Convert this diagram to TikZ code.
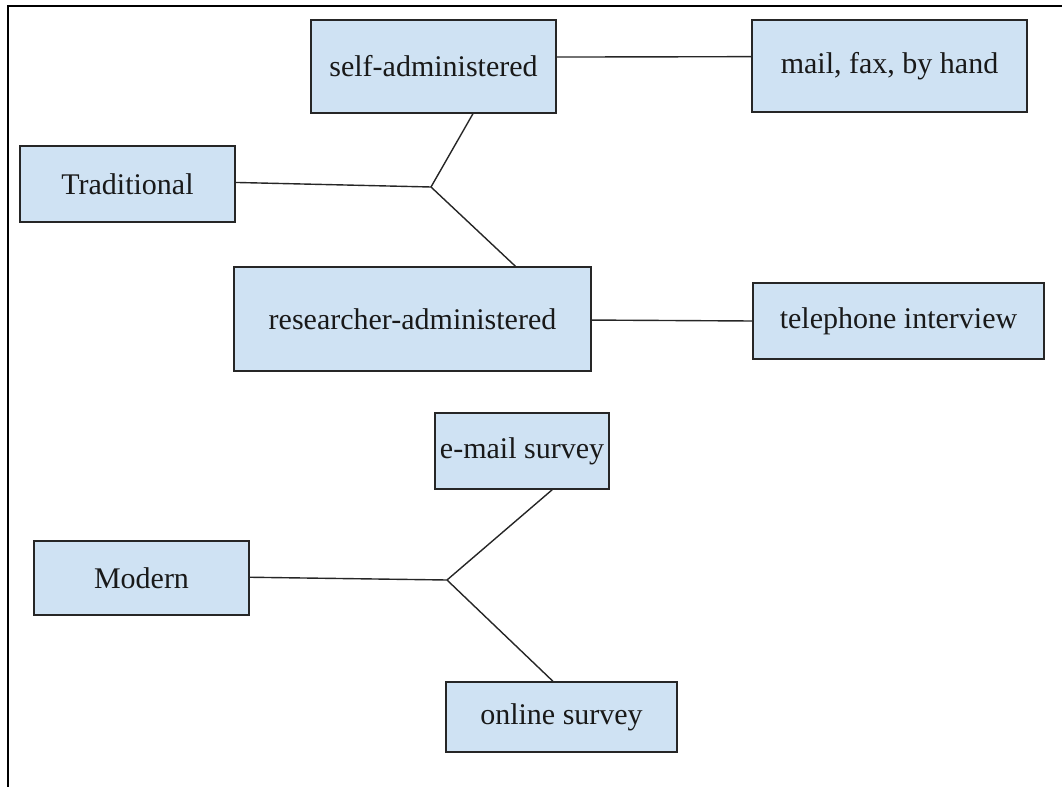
\documentclass[tikz,border=0pt]{standalone}
\usepackage{fontspec}
\setmainfont{Liberation Serif}
\usetikzlibrary{calc}
\definecolor{boxfill}{RGB}{207,226,243}
\begin{document}
\begin{tikzpicture}[x=0.5pt,y=-0.5pt,
  box/.style={draw=black!85, line width=0.75pt, fill=boxfill, inner sep=0pt,
    font=\fontsize{15}{18}\selectfont, text=black!90},
  conn/.style={draw=black!85, line width=0.7pt},
  frame/.style={draw=black, line width=1pt}]
\useasboundingbox (0,0) rectangle (1062,787);
\draw[frame] (8,787) -- (8,6) -- (1062,6);
% nodes
\node[box, minimum width=122.5pt, minimum height=46.5pt] (selfadm) at (433.5,66.5) {self-administered};
\node[box, minimum width=137.5pt, minimum height=46pt] (mail) at (889.5,66) {mail, fax, by hand};
\node[box, minimum width=107.5pt, minimum height=38pt] (trad) at (127.5,184) {Traditional};
\node[box, minimum width=178.5pt, minimum height=52pt] (research) at (412.5,319) {researcher-administered};
\node[box, minimum width=145.5pt, minimum height=38pt] (tel) at (898.5,321) {telephone interview};
\node[box, minimum width=87pt, minimum height=38pt] (email) at (522,451) {e-mail survey};
\node[box, minimum width=107.5pt, minimum height=37pt] (modern) at (141.5,578) {Modern};
\node[box, minimum width=115.5pt, minimum height=35pt] (online) at (561.5,717) {online survey};
% junctions
\coordinate (jt) at (431,187);
\coordinate (jm) at (447,580);
% connectors
\draw[conn] ($(selfadm.north east)!0.4!(selfadm.south east)$) -- ($(mail.north west)!0.4!(mail.south west)$);
\draw[conn] ($(trad.north east)!0.48!(trad.south east)$) -- (jt);
\draw[conn] (jt) -- ($(selfadm.south west)!0.66!(selfadm.south east)$);
\draw[conn] (jt) -- ($(research.north west)!0.787!(research.north east)$);
\draw[conn] ($(research.north east)!0.51!(research.south east)$) -- ($(tel.north west)!0.5!(tel.south west)$);
\draw[conn] ($(modern.north east)!0.49!(modern.south east)$) -- (jm);
\draw[conn] (jm) -- ($(email.south west)!0.672!(email.south east)$);
\draw[conn] (jm) -- ($(online.north west)!0.463!(online.north east)$);
\end{tikzpicture}
\end{document}
